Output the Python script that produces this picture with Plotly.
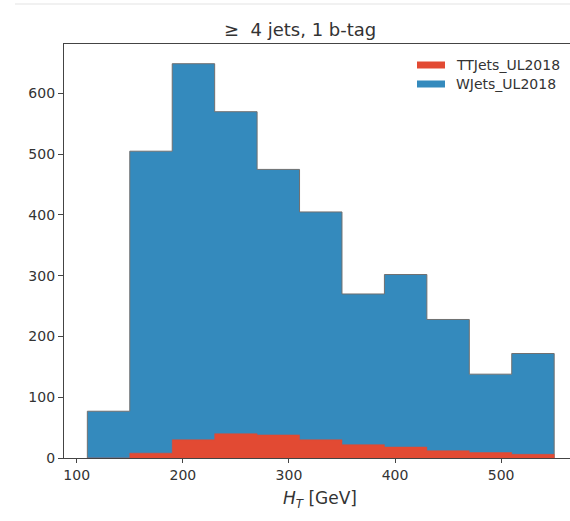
import numpy as np
import plotly.graph_objects as go

# ---- data ----
bin_edges = [110, 150, 190, 230, 270, 310, 350, 390, 430, 470, 510, 550]
ttjets_counts = [0, 8, 30, 40, 38, 30, 22, 18, 12, 9, 6]
wjets_counts = [77, 497, 619, 530, 437, 375, 248, 284, 216, 129, 166]
series_names = ["TTJets_UL2018", "WJets_UL2018"]
series_colors = ["#E24A33", "#348ABD"]
x_ticks = [100, 200, 300, 400, 500]
y_ticks = [0, 100, 200, 300, 400, 500, 600]
title_text = "\u2265  4 jets, 1 b-tag"

# ---- geometry ----
W, H = 570, 521
L, R, T, B = 64, 0, 44, 63
PW, PH = W - L - R, H - T - B


def px_x(p):
    return (p - L) / PW


def px_y(p):
    return (H - B - p) / PH


def step_xy(edges, vals):
    xs = [edges[0]] + list(edges[:-1]) + [edges[-1], edges[-1]]
    ys = [0] + list(vals) + [vals[-1], 0]
    return xs, ys


tt = np.array(ttjets_counts, dtype=float)
wj = np.array(wjets_counts, dtype=float)
total = tt + wj

fig = go.Figure()

bx, by = step_xy(bin_edges, total)
fig.add_trace(go.Scatter(x=bx, y=by, mode="lines", line_shape="hv",
                         fill="tozeroy", fillcolor=series_colors[1],
                         line=dict(color="#707070", width=1),
                         name=series_names[1], showlegend=False,
                         hoverinfo="skip"))
rx, ry = step_xy(bin_edges, tt)
fig.add_trace(go.Scatter(x=rx, y=ry, mode="lines", line_shape="hv",
                         fill="tozeroy", fillcolor=series_colors[0],
                         line=dict(color=series_colors[0], width=0.5),
                         name=series_names[0], showlegend=False,
                         hoverinfo="skip"))

ymax = float(total.max()) * 1.05
span = bin_edges[-1] - bin_edges[0]
xmin = bin_edges[0] - 0.05 * span
xmax = xmin + (W - L) / 1.061

font_family = "DejaVu Sans"
text_color = "#333333"
axis_color = "#444444"

fig.update_layout(
    width=W, height=H, autosize=False,
    margin=dict(l=L, r=R, t=T, b=B, pad=0),
    paper_bgcolor="white", plot_bgcolor="white",
    font=dict(family=font_family, size=14, color=text_color),
    showlegend=False,
    xaxis=dict(range=[xmin, xmax], tickvals=x_ticks, ticks="outside",
               ticklen=4, tickwidth=1, tickcolor=axis_color,
               showline=True, linecolor=axis_color, linewidth=1.3,
               mirror=True, showgrid=False, zeroline=False,
               tickfont=dict(size=14, color=text_color)),
    yaxis=dict(range=[0, ymax], tickvals=y_ticks, ticks="outside",
               ticklen=5, tickwidth=1, tickcolor=axis_color,
               showline=True, linecolor=axis_color, linewidth=1.3,
               showgrid=False, zeroline=False,
               tickfont=dict(size=14, color=text_color)),
)

annotations = [
    dict(text=title_text, x=px_x(300), y=px_y(29), xref="paper", yref="paper",
         xanchor="center", yanchor="middle", showarrow=False,
         font=dict(size=18, color=text_color, family=font_family)),
    dict(text="<i>H</i><sub><i>T</i></sub> [GeV]", x=px_x(320), y=px_y(499),
         xref="paper", yref="paper", xanchor="center", yanchor="middle",
         showarrow=False, font=dict(size=17, color=text_color, family=font_family)),
]
shapes = [
    dict(type="line", xref="paper", yref="paper", x0=px_x(15), x1=1.0,
         y0=px_y(4), y1=px_y(4), line=dict(color="#e3e3e3", width=1)),
]

# manual legend (matplotlib-style patches)
leg_rows = [65, 84]
for name, color, yc in zip(series_names, series_colors, leg_rows):
    shapes.append(dict(type="rect", xref="paper", yref="paper",
                       x0=px_x(417), x1=px_x(445), y0=px_y(yc + 3.5), y1=px_y(yc - 3.5),
                       fillcolor=color, line=dict(width=0)))
    annotations.append(dict(text=name, x=px_x(454), y=px_y(yc), xref="paper", yref="paper",
                            xanchor="left", yanchor="middle", showarrow=False,
                            font=dict(size=14, color=text_color, family=font_family)))

fig.update_layout(annotations=annotations, shapes=shapes)

fig.write_html(
    "out.html",
    config={"displayModeBar": False},
    post_script="document.body.style.margin='0';document.body.style.overflow='hidden';",
)
